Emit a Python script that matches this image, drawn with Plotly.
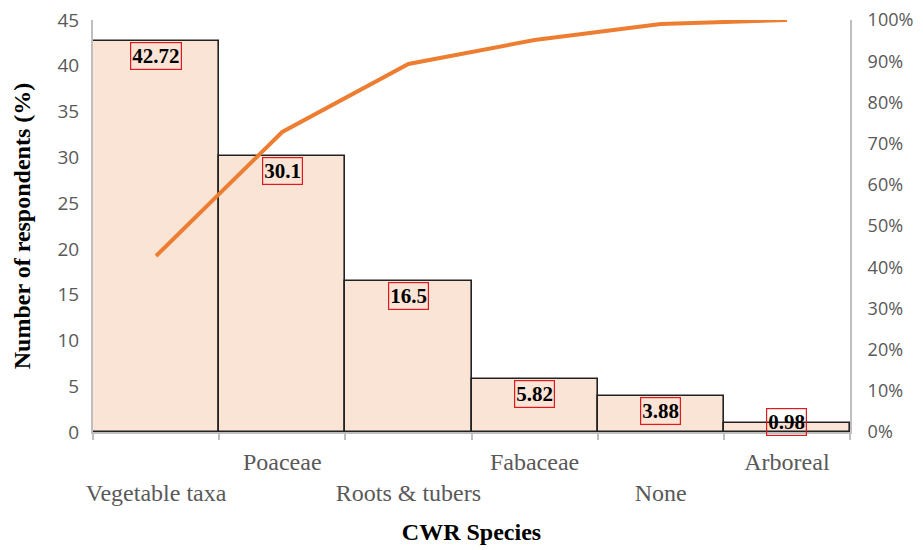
import plotly.graph_objects as go

# CWR species reported by respondents (%), sorted descending for a Pareto view
species = ["Vegetable taxa", "Poaceae", "Roots & tubers", "Fabaceae", "None", "Arboreal"]
respondents_pct = [42.72, 30.1, 16.5, 5.82, 3.88, 0.98]
cumulative_pct = [42.72, 72.82, 89.32, 95.14, 99.02, 100.0]
bar_labels = ["42.72", "30.1", "16.5", "5.82", "3.88", "0.98"]

# Alternate tick labels between two rows so the long names don't collide
tick_text = [("<br>" + s) if i % 2 == 0 else s for i, s in enumerate(species)]

SERIF = "Liberation Serif"
SANS = "Open Sans"
GRAY = "#595959"
AXIS_GRAY = "#BFBFBF"

fig = go.Figure()

fig.add_trace(go.Bar(
    x=species,
    y=respondents_pct,
    marker=dict(color="#FAE4D6", line=dict(color="#222222", width=1.6)),
    width=1.0,
    yaxis="y",
    showlegend=False,
    hoverinfo="skip",
))

fig.add_trace(go.Scatter(
    x=species,
    y=[v / 100 for v in cumulative_pct],
    mode="lines",
    line=dict(color="#ED7D31", width=4),
    yaxis="y2",
    showlegend=False,
    hoverinfo="skip",
))

# Value labels boxed in red just inside the top of each bar
for name, val, txt in zip(species, respondents_pct, bar_labels):
    if val > 3:
        ann = dict(y=val, yanchor="top", yshift=-1)
    else:
        ann = dict(y=0, yanchor="bottom", yshift=-4)
    fig.add_annotation(
        x=name, xref="x", yref="y",
        text=txt, showarrow=False,
        font=dict(family=SERIF, size=21, color="black", weight="bold"),
        bordercolor="#E0191E", borderwidth=1.2, borderpad=1,
        **ann,
    )

fig.update_layout(
    width=923, height=550,
    margin=dict(l=93, r=73, t=20, b=118),
    plot_bgcolor="white", paper_bgcolor="white",
    bargap=0,
    xaxis=dict(
        tickmode="array", tickvals=species, ticktext=tick_text,
        tickangle=0, automargin=False,
        tickson="boundaries", ticks="outside", ticklen=6, tickwidth=2,
        tickcolor=AXIS_GRAY,
        showline=True, linecolor=AXIS_GRAY, linewidth=2,
        tickfont=dict(family=SERIF, size=24, color=GRAY),
        ticklabelstandoff=7,
        title=dict(text="<b>CWR Species</b>", font=dict(family=SERIF, size=24, color="black"), standoff=18),
        showgrid=False,
    ),
    yaxis=dict(
        range=[0, 45], dtick=5, showgrid=False, zeroline=False,
        showline=True, linecolor=AXIS_GRAY, linewidth=2,
        tickfont=dict(family=SANS, size=19, color=GRAY),
        ticks="", ticklabelstandoff=8, automargin=False,
        title=dict(text="<b>Number of respondents (%)</b>", font=dict(family=SERIF, size=24, color="black"), standoff=20),
    ),
    yaxis2=dict(
        range=[0, 1], dtick=0.1, tickformat=".0%", overlaying="y", side="right",
        showgrid=False, zeroline=False, automargin=False,
        showline=True, linecolor=AXIS_GRAY, linewidth=2,
        tickfont=dict(family=SANS, size=18, color=GRAY),
        ticks="", ticklabelstandoff=12,
    ),
)

fig.write_html("out.html")
